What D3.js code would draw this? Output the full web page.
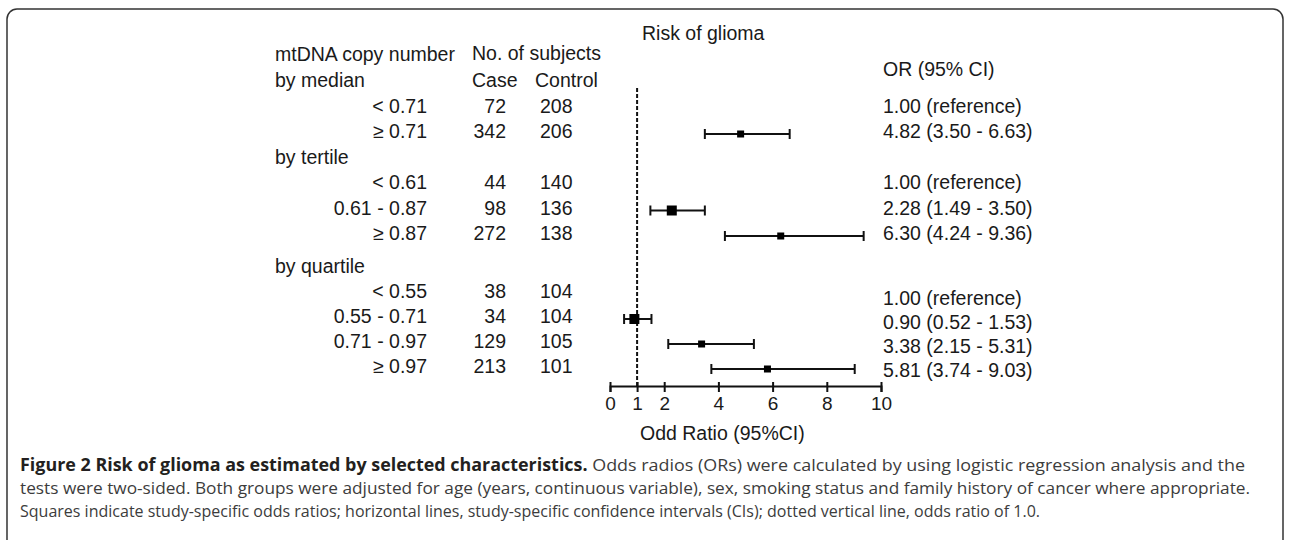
<!DOCTYPE html>
<html>
<head>
<meta charset="utf-8">
<script src="https://cdn.jsdelivr.net/npm/d3@7"></script>
<style>
  body { margin: 0; background: #fff; }
  text { font-family: "Liberation Sans", Arial, sans-serif; fill: #1a1a1a; }
  .cap { font-family: "Open Sans", sans-serif; fill: #3c3c3c; }
</style>
</head>
<body>
<div class="chart"></div>
<script>
const WIDTH = 1290
const HEIGHT = 540

// données
const groups = ["by median", "by tertile", "by quartile"];
const groupOf = ["by median", "by median", "by tertile", "by tertile", "by tertile",
                 "by quartile", "by quartile", "by quartile", "by quartile"];
const labels = ["< 0.71", "≥ 0.71", "< 0.61", "0.61 - 0.87", "≥ 0.87",
                "< 0.55", "0.55 - 0.71", "0.71 - 0.97", "≥ 0.97"];
const cases = [72, 342, 44, 98, 272, 38, 34, 129, 213];
const controls = [208, 206, 140, 136, 138, 104, 104, 105, 101];
const oddsRatio = [1.00, 4.82, 1.00, 2.28, 6.30, 1.00, 0.90, 3.38, 5.81];
const ciLow = [null, 3.50, null, 1.49, 4.24, null, 0.52, 2.15, 3.74];
const ciHigh = [null, 6.63, null, 3.50, 9.36, null, 1.53, 5.31, 9.03];
const xTicks = [0, 1, 2, 4, 6, 8, 10];

const captionBold = "Figure 2 Risk of glioma as estimated by selected characteristics.";
const captionLines = [
  " Odds radios (ORs) were calculated by using logistic regression analysis and the",
  "tests were two-sided. Both groups were adjusted for age (years, continuous variable), sex, smoking status and family history of cancer where appropriate.",
  "Squares indicate study-specific odds ratios; horizontal lines, study-specific confidence intervals (CIs); dotted vertical line, odds ratio of 1.0."
];

// lignes du tableau : un en-tête par groupe puis ses catégories
let rows = [];
groups.forEach(g => {
  rows.push({ header: true, label: g, group: g });
  labels.forEach((l, i) => {
    if (groupOf[i] === g) rows.push({ header: false, label: l, group: g, i: i });
  });
});
rows.forEach((r, k) => r.k = k);

const svg = d3.select("div.chart")
            .append("svg")
            .attr("width", WIDTH)
            .attr("height", HEIGHT);

// cadre arrondi
svg.append("rect")
   .attr("x", 7).attr("y", 9)
   .attr("width", 1276).attr("height", 600)
   .attr("rx", 10)
   .style("fill", "none")
   .style("stroke", "#333")
   .style("stroke-width", 1.5);

const FS = 19.5;
const x = d3.scaleLinear().domain([0, 10]).range([610, 881]);
// un peu plus d'espace avant "by quartile", comme dans l'original
const y = d3.scaleLinear().domain([0, 6, 7, 11]).range([87, 240, 273, 373]);
// la colonne OR du groupe quartile est décalée vers le bas dans l'original
const yOrQuart = d3.scaleLinear().domain([8, 11]).range([305, 377]);
const orY = r => r.group === "by quartile" ? yOrQuart(r.k) : y(r.k);
const markSize = d3.scaleThreshold().domain([2.5]).range([10, 7]);

// en-têtes
const head = [
  ["Risk of glioma", 642, 40],
  ["mtDNA copy number", 275, 61],
  ["No. of subjects", 472, 60],
  ["Case", 472, 87],
  ["Control", 535, 87],
  ["OR (95% CI)", 883, 76]
];
svg.selectAll("text.head")
   .data(head)
   .enter()
   .append("text")
   .attr("class", "head")
   .attr("x", d => d[1])
   .attr("y", d => d[2])
   .style("font-size", FS + "px")
   .text(d => d[0]);

// libellés des lignes
svg.selectAll("text.row")
   .data(rows)
   .enter()
   .append("text")
   .attr("class", "row")
   .attr("x", d => d.header ? 275 : 427)
   .attr("y", d => y(d.k))
   .attr("text-anchor", d => d.header ? "start" : "end")
   .style("font-size", FS + "px")
   .text(d => d.label);

const items = rows.filter(r => !r.header);

svg.selectAll("text.case")
   .data(items)
   .enter()
   .append("text")
   .attr("x", 506)
   .attr("y", d => y(d.k))
   .attr("text-anchor", "end")
   .style("font-size", FS + "px")
   .text(d => cases[d.i]);

svg.selectAll("text.control")
   .data(items)
   .enter()
   .append("text")
   .attr("x", 540)
   .attr("y", d => y(d.k))
   .style("font-size", FS + "px")
   .text(d => controls[d.i]);

svg.selectAll("text.or")
   .data(items)
   .enter()
   .append("text")
   .attr("x", 883)
   .attr("y", d => orY(d))
   .style("font-size", FS + "px")
   .text(d => ciLow[d.i] === null
      ? oddsRatio[d.i].toFixed(2) + " (reference)"
      : oddsRatio[d.i].toFixed(2) + " (" + ciLow[d.i].toFixed(2) + " - " + ciHigh[d.i].toFixed(2) + ")");

// axe
const axisY = 386;
const axis = svg.append("g")
   .attr("transform", "translate(0," + axisY + ")")
   .call(d3.axisBottom(x).tickValues(xTicks).tickSizeOuter(0).tickSize(6).tickPadding(5).tickFormat(d3.format("d")));
axis.select(".domain").style("stroke", "#111").style("stroke-width", 2);
axis.selectAll(".tick line").attr("y1", -4).style("stroke", "#111").style("stroke-width", 2);
axis.selectAll(".tick text")
    .style("font-size", "19px")
    .style("font-family", "'Liberation Sans', Arial, sans-serif")
    .style("fill", "#1a1a1a");

svg.append("text")
   .attr("x", 640).attr("y", 440)
   .style("font-size", FS + "px")
   .text("Odd Ratio (95%CI)");

// ligne de référence OR = 1
svg.append("line")
   .attr("x1", x(1)).attr("x2", x(1))
   .attr("y1", 88).attr("y2", axisY)
   .style("stroke", "#111")
   .style("stroke-width", 2)
   .style("stroke-dasharray", "4,2");

// intervalles de confiance
const est = items.filter(d => ciLow[d.i] !== null);
const my = d => y(d.k) - 4;

svg.selectAll("line.ci")
   .data(est)
   .enter()
   .append("line")
   .attr("x1", d => x(ciLow[d.i])).attr("x2", d => x(ciHigh[d.i]))
   .attr("y1", my).attr("y2", my)
   .style("stroke", "#111").style("stroke-width", 2);

["lo", "hi"].forEach(side => {
  svg.selectAll("line.cap" + side)
     .data(est)
     .enter()
     .append("line")
     .attr("x1", d => x(side === "lo" ? ciLow[d.i] : ciHigh[d.i]))
     .attr("x2", d => x(side === "lo" ? ciLow[d.i] : ciHigh[d.i]))
     .attr("y1", d => my(d) - 5).attr("y2", d => my(d) + 5)
     .style("stroke", "#111").style("stroke-width", 2);
});

svg.selectAll("rect.mark")
   .data(est)
   .enter()
   .append("rect")
   .attr("x", d => x(oddsRatio[d.i]) - markSize(ciHigh[d.i] - ciLow[d.i]) / 2)
   .attr("y", d => my(d) - markSize(ciHigh[d.i] - ciLow[d.i]) / 2)
   .attr("width", d => markSize(ciHigh[d.i] - ciLow[d.i]))
   .attr("height", d => markSize(ciHigh[d.i] - ciLow[d.i]))
   .style("fill", "#000");

// légende de la figure
const cap = svg.append("g");
const l1 = cap.append("text")
   .attr("class", "cap")
   .attr("x", 20).attr("y", 471)
   .attr("textLength", 1225)
   .attr("lengthAdjust", "spacingAndGlyphs")
   .style("font-size", "17px");
l1.append("tspan").style("font-weight", "bold").style("fill", "#231f20").text(captionBold);
l1.append("tspan").text(captionLines[0]);

cap.selectAll("text.capl")
   .data(captionLines.slice(1))
   .enter()
   .append("text")
   .attr("class", "cap")
   .attr("x", 20)
   .attr("y", (d, i) => 494 + i * 22.5)
   .attr("textLength", (d, i) => i === 0 ? 1230 : 1020)
   .attr("lengthAdjust", "spacingAndGlyphs")
   .style("font-size", "17px")
   .text(d => d);
</script>
</body>
</html>
